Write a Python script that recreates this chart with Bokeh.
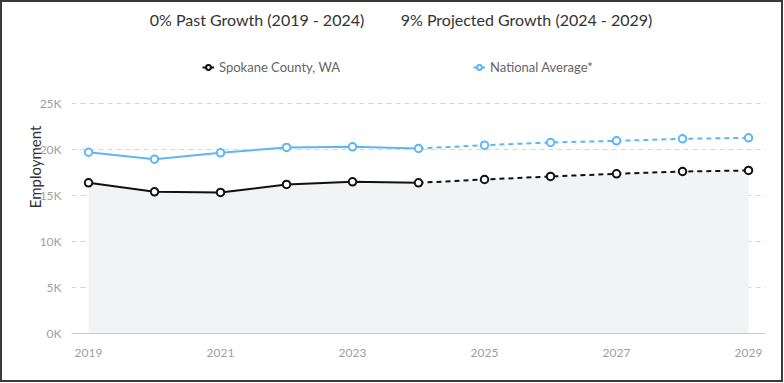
from bokeh.plotting import figure
from bokeh.models import (Label, Legend, LegendItem, FixedTicker,
                          GlobalInlineStyleSheet)
from bokeh.embed import file_html
from bokeh.resources import INLINE

# ---------------- data ----------------
years_past = [2019, 2020, 2021, 2022, 2023, 2024]
years_proj = [2024, 2025, 2026, 2027, 2028, 2029]
spokane_past = [16380, 15400, 15330, 16200, 16490, 16380]
spokane_proj = [16380, 16740, 17070, 17360, 17610, 17720]
national_past = [19700, 18950, 19640, 20220, 20290, 20110]
national_proj = [20110, 20470, 20760, 20940, 21160, 21270]
series_names = ["Spokane County, WA", "National Average*"]
y_ticks = [0, 5000, 10000, 15000, 20000, 25000]
y_tick_labels = ["0K", "5K", "10K", "15K", "20K", "25K"]
x_ticks = [2019, 2021, 2023, 2025, 2027, 2029]
x_tick_labels = ["2019", "2021", "2023", "2025", "2027", "2029"]
title_past = "0% Past Growth (2019 - 2024)"
title_proj = "9% Projected Growth (2024 - 2029)"
y_title = "Employment"

# ---------------- styling ----------------
FONT = "Lato"
BLACK = "#111111"
BLUE = "#5db7f5"
SHADE = "#f2f3f5"

# frame spans from page top (y=0) to y=333; 46 px per 5K
p = figure(width=784, height=383, output_backend="svg", toolbar_location=None,
           title=None,
           x_range=(2018.742, 2029.257), y_range=(0, 36196),
           min_border_left=71, min_border_right=19,
           min_border_top=0, min_border_bottom=50)
p.outline_line_color = None
p.background_fill_color = "white"
p.border_fill_color = "white"

p.stylesheets.append(GlobalInlineStyleSheet(css="""
html, body { margin: 0 !important; padding: 0 !important; }
body::after { content: ''; position: fixed; left: 0; top: 0; width: 783px; height: 382px;
  box-sizing: border-box; border: 2px solid #3a3a3a; pointer-events: none; z-index: 1000; }
"""))

# area under Spokane series
all_years = years_past + years_proj[1:]
all_spokane = spokane_past + spokane_proj[1:]
all_national = national_past + national_proj[1:]
p.varea(x=all_years, y1=0, y2=all_spokane, fill_color=SHADE)

# grid
p.xgrid.visible = False
p.ygrid.ticker = FixedTicker(ticks=y_ticks)
p.ygrid.grid_line_color = "#d6d6d6"
p.ygrid.grid_line_dash = "5 4"
p.ygrid.grid_line_width = 1

# lines
r_sp_line = p.line(years_past, spokane_past, line_color=BLACK, line_width=2)
p.line(years_proj, spokane_proj, line_color=BLACK, line_width=2, line_dash="5 4")
r_na_line = p.line(years_past, national_past, line_color=BLUE, line_width=2)
p.line(years_proj, national_proj, line_color=BLUE, line_width=2, line_dash="5 4")

r_sp_pts = p.scatter(all_years, all_spokane, size=7.5, fill_color="white",
                     line_color=BLACK, line_width=2)
r_na_pts = p.scatter(all_years, all_national, size=7.5, fill_color="white",
                     line_color=BLUE, line_width=2)

# axes
p.yaxis.ticker = FixedTicker(ticks=y_ticks)
p.yaxis.major_label_overrides = dict(zip(y_ticks, y_tick_labels))
p.yaxis.axis_line_color = None
p.yaxis.major_tick_line_color = None
p.yaxis.minor_tick_line_color = None
p.yaxis.major_label_standoff = 4
p.yaxis.major_label_text_font = FONT
p.yaxis.major_label_text_font_size = "12px"
p.yaxis.major_label_text_color = "#a0a0a0"
p.yaxis.axis_label = y_title
p.yaxis.axis_label_text_font = FONT
p.yaxis.axis_label_text_font_size = "15px"
p.yaxis.axis_label_text_font_style = "normal"
p.yaxis.axis_label_text_color = "#333333"
p.yaxis.axis_label_standoff = -7

p.xaxis.ticker = FixedTicker(ticks=x_ticks)
p.xaxis.major_label_overrides = dict(zip(x_ticks, x_tick_labels))
p.xaxis.axis_line_color = "#cccccc"
p.xaxis.axis_line_width = 1
p.xaxis.major_tick_line_color = None
p.xaxis.minor_tick_line_color = None
p.xaxis.major_label_standoff = 9
p.xaxis.major_label_text_font = FONT
p.xaxis.major_label_text_font_size = "12px"
p.xaxis.major_label_text_color = "#a0a0a0"

# titles (screen units relative to frame: left=71, bottom=333)
for txt, cx in [(title_past, 185.5), (title_proj, 455)]:
    p.add_layout(Label(x=cx, y=314, x_units="screen", y_units="screen", text=txt,
                       text_align="center", text_baseline="middle",
                       text_font=FONT, text_font_size="16px", text_color="#333333"))

# legend
legend = Legend(items=[LegendItem(label=series_names[0], renderers=[r_sp_line, r_sp_pts]),
                       LegendItem(label=series_names[1], renderers=[r_na_line, r_na_pts])],
                location=(131, 258), orientation="horizontal",
                glyph_width=12, glyph_height=14, label_height=16, label_standoff=5,
                spacing=133, padding=0, margin=0,
                label_text_font=FONT, label_text_font_size="13px",
                label_text_color="#666666",
                border_line_color=None, background_fill_alpha=0)
p.add_layout(legend, "center")

open("out.html", "w").write(file_html(p, INLINE))
